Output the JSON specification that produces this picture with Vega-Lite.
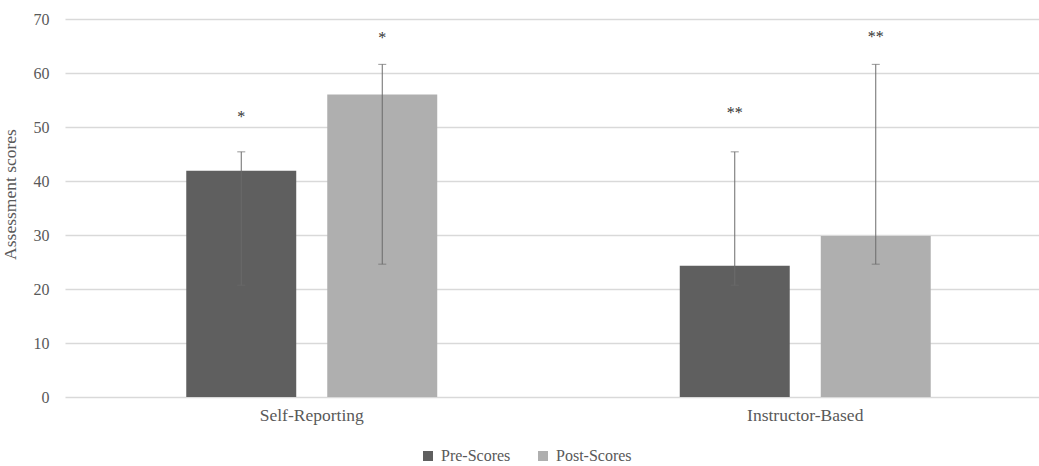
{
  "$schema": "https://vega.github.io/schema/vega-lite/v6.json",
  "width": 974,
  "height": 378,
  "autosize": "none",
  "padding": {"left": 65, "top": 19, "right": 0, "bottom": 69},
  "background": "white",
  "config": {"view": {"stroke": null}, "font": "Liberation Serif"},
  "data": {"values": [
    {"group": "Self-Reporting", "series": "Pre-Scores", "score": 41.9, "low": 20.7, "high": 45.4, "sig": "*", "sigY": 52.4},
    {"group": "Self-Reporting", "series": "Post-Scores", "score": 56.0, "low": 24.6, "high": 61.6, "sig": "*", "sigY": 67.0},
    {"group": "Instructor-Based", "series": "Pre-Scores", "score": 24.3, "low": 20.7, "high": 45.4, "sig": "**", "sigY": 53.1},
    {"group": "Instructor-Based", "series": "Post-Scores", "score": 29.8, "low": 24.6, "high": 61.6, "sig": "**", "sigY": 67.2}
  ]},
  "encoding": {
    "x": {
      "field": "group", "type": "nominal", "sort": ["Self-Reporting", "Instructor-Based"],
      "scale": {"range": [0, 987], "paddingInner": 0, "paddingOuter": 0},
      "axis": {"title": null, "labelAngle": 0, "labelFontSize": 17.5, "labelColor": "#595959", "labelPadding": 9, "domain": false, "ticks": false, "grid": false}
    },
    "xOffset": {"field": "series", "type": "nominal", "sort": ["Pre-Scores", "Post-Scores"], "scale": {"paddingInner": 0.22, "paddingOuter": 0.86}}
  },
  "layer": [
    {
      "mark": {"type": "bar"},
      "encoding": {
        "y": {
          "field": "score", "type": "quantitative",
          "scale": {"domain": [0, 70], "nice": false},
          "axis": {"values": [0, 10, 20, 30, 40, 50, 60, 70], "title": "Assessment scores", "titleFontSize": 17.5, "titleFontWeight": "normal", "titleColor": "#595959", "titleX": -46, "titleY": 175, "labelFontSize": 16, "labelColor": "#595959", "labelPadding": 16, "domain": false, "ticks": false, "gridColor": "#d9d9d9", "gridWidth": 1.5}
        },
        "color": {
          "field": "series", "type": "nominal",
          "scale": {"domain": ["Pre-Scores", "Post-Scores"], "range": ["#5f5f5f", "#afafaf"]},
          "legend": {"orient": "none", "legendX": 355, "legendY": 429, "direction": "horizontal", "title": null, "symbolType": "square", "symbolSize": 100, "symbolStrokeWidth": 0, "labelFontSize": 16, "labelColor": "#595959", "labelOffset": 5, "columnPadding": 24}
        }
      }
    },
    {
      "mark": {"type": "rule", "color": "#6b6b6b", "strokeWidth": 1},
      "encoding": {"y": {"field": "low", "type": "quantitative"}, "y2": {"field": "high"}}
    },
    {
      "mark": {"type": "tick", "color": "#6b6b6b", "size": 8, "thickness": 1},
      "encoding": {"y": {"field": "low", "type": "quantitative"}}
    },
    {
      "mark": {"type": "tick", "color": "#6b6b6b", "size": 8, "thickness": 1},
      "encoding": {"y": {"field": "high", "type": "quantitative"}}
    },
    {
      "mark": {"type": "text", "fontSize": 16, "color": "#333333", "baseline": "alphabetic", "dy": 8},
      "encoding": {"y": {"field": "sigY", "type": "quantitative"}, "text": {"field": "sig"}}
    }
  ]
}
